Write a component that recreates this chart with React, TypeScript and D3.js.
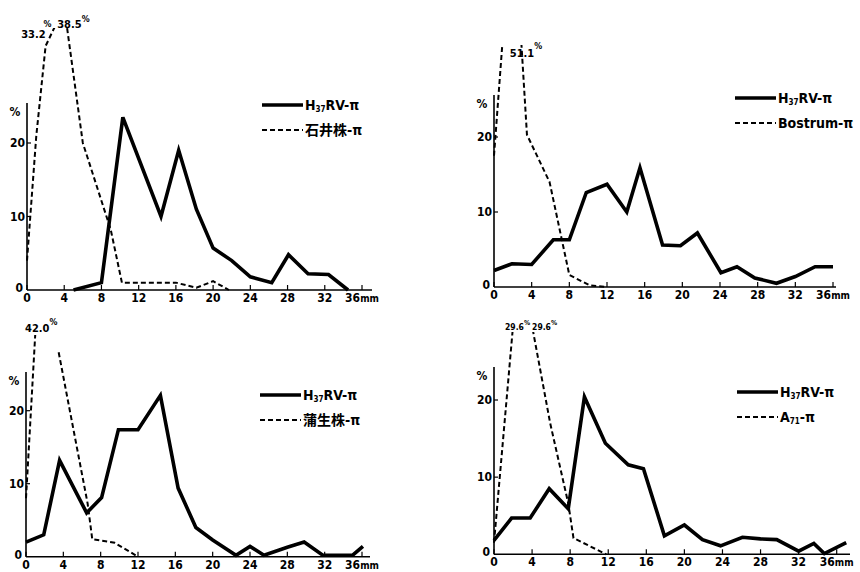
import React from 'react';
import * as d3 from 'd3';

// x: mm, y: %
const solid1 = [[5, 0], [8, 1], [10.3, 23.5], [14.4, 10], [16.3, 19], [18.2, 11], [20, 5.7], [22, 4], [24, 1.8], [26.3, 1], [28.1, 4.8], [30.2, 2.2], [32.4, 2.1], [34.5, 0]];
const dashed1 = [[0, 4], [1, 21], [2, 33.2], [4, 38.5], [6, 20], [9, 8.2], [10.2, 1], [16, 1], [18.2, 0.3], [20, 1.2], [21.7, 0]];

const solid2 = [[0, 2.2], [1.9, 3.1], [4, 3], [6.3, 6.3], [8, 6.3], [9.8, 12.6], [12, 13.7], [14.1, 10], [15.5, 15.9], [17.9, 5.6], [19.8, 5.5], [21.6, 7.2], [24.1, 1.9], [25.8, 2.7], [27.7, 1.2], [30, 0.5], [32, 1.4], [34.1, 2.7], [36, 2.7]];
const dashed2 = [[0, 17.5], [2, 51.1], [3.5, 20.3], [5.9, 14], [8, 1.6], [10.2, 0.2], [12, 0]];

const solid3 = [[0, 2], [1.9, 3], [3.6, 13.2], [6.5, 6], [8.1, 8.1], [9.9, 17.4], [12, 17.4], [14.4, 22.1], [16.3, 9.4], [18.2, 4], [20, 2.3], [22.5, 0.2], [24, 1.4], [25.5, 0.2], [28, 1.3], [29.8, 2], [31.8, 0.2], [35, 0.2], [36.1, 1.4]];
const dashed3 = [[0, 8], [1.5, 42.0], [2.5, null], [3.5, 28], [6.6, 7.3], [7.1, 2.4], [9.5, 1.9], [12, 0]];

const solid4 = [[0, 1.8], [1.85, 4.7], [3.8, 4.7], [5.8, 8.5], [7.8, 5.9], [9.5, 20.4], [11.7, 14.4], [14.1, 11.6], [15.7, 11.1], [17.9, 2.4], [20, 3.8], [21.9, 1.9], [23.8, 1.1], [26.1, 2.2], [28, 2], [29.7, 1.9], [32, 0.4], [33.6, 1.4], [34.7, 0.1], [37, 1.5]];
const dashed4 = [[0, 1.5], [2, 29.6], [4, 29.6], [5.9, 17], [7.8, 6.6], [8.35, 2.1], [11.8, 0]];

const peaks1 = [{ x: 2, label: '33.2' }, { x: 4, label: '38.5' }];
const peaks2 = [{ x: 2, label: '51.1' }];
const peaks3 = [{ x: 1.5, label: '42.0' }];
const peaks4 = [{ x: 2, label: '29.6' }, { x: 4, label: '29.6' }];

const solidLabel = { main: 'H', sub: '37', rest: 'RV-π' };
const dashedLabels = [
  { main: '石井株-π', sub: '', rest: '' },
  { main: 'Bostrum-π', sub: '', rest: '' },
  { main: '蒲生株-π', sub: '', rest: '' },
  { main: 'A', sub: '71', rest: '-π' },
];

const xTicks = [0, 4, 8, 12, 16, 20, 24, 28, 32, 36];
const yTicks = [10, 20];

const FONT = "'Liberation Sans Narrow', 'DejaVu Sans Condensed', 'Noto Sans CJK JP', sans-serif";

// layout of the four panels (pixel geometry only)
const panels = [
  { solid: solid1, dashed: dashed1, peaks: peaks1, legend: dashedLabels[0],
    x: [27, 362], y: [290, 143], axisTop: 103, axisRight: 372, clipTop: 28, peakFont: 11,
    leg: [262, 105], peakPos: [{ dx: 0, dy: 10, anchor: 'end', px: -2, py: -11 }, { dx: -7, dy: 0, anchor: 'start', px: 0, py: -6 }] },
  { solid: solid2, dashed: dashed2, peaks: peaks2, legend: dashedLabels[1],
    x: [494, 833], y: [287, 137], axisTop: 95, axisRight: 836, clipTop: 45, peakFont: 11,
    leg: [735, 98], peakPos: [{ dx: -3, dy: 12, anchor: 'start', px: 0, py: -8 }] },
  { solid: solid3, dashed: dashed3, peaks: peaks3, legend: dashedLabels[2],
    x: [26, 362], y: [556.7, 410.7], axisTop: 372, axisRight: 370, clipTop: 335, peakFont: 11,
    leg: [260, 395], peakPos: [{ dx: -15, dy: -3, anchor: 'start', px: 0, py: -7 }] },
  { solid: solid4, dashed: dashed4, peaks: peaks4, legend: dashedLabels[3],
    x: [494, 836.7], y: [554.3, 400], axisTop: 367, axisRight: 850, clipTop: 332, peakFont: 8.5,
    leg: [737, 392], peakPos: [{ dx: -8, dy: -2, anchor: 'start', px: 0, py: -5 }, { dx: 0, dy: -2, anchor: 'start', px: 0, py: -5 }] },
];

const LegendText = ({ x, y, t }: any) => (
  <text x={x} y={y} fontSize={14} fontFamily={FONT} fontWeight="bold">
    {t.main}
    {t.sub && <tspan fontSize={8} dy={2}>{t.sub}</tspan>}
    {t.rest && <tspan dy={t.sub ? -2 : 0}>{t.rest}</tspan>}
  </text>
);

const Panel = ({ p, i }: any) => {
  const xs = d3.scaleLinear().domain([0, 36]).range(p.x);
  const ys = d3.scaleLinear().domain([0, 20]).range(p.y);
  const x0 = xs(0);
  const y0 = ys(0);
  const line = d3.line<any>()
    .defined((d) => d[1] != null)
    .x((d) => xs(d[0]))
    .y((d) => ys(d[1]));
  const clipId = `clip-${i}`;

  return (
    <g>
      <defs>
        <clipPath id={clipId}>
          <rect x={x0 - 5} y={p.clipTop} width={p.axisRight - x0 + 20} height={y0 - p.clipTop + 3} />
        </clipPath>
      </defs>

      {/* axes */}
      <line x1={x0} x2={x0} y1={p.axisTop} y2={y0} stroke="#000" strokeWidth={1.6} />
      <line x1={x0} x2={p.axisRight} y1={y0} y2={y0} stroke="#000" strokeWidth={1.6} />
      {xTicks.map((t) => (
        <g key={t}>
          <line x1={xs(t)} x2={xs(t)} y1={y0} y2={y0 - 5} stroke="#000" strokeWidth={1.2} />
          <text x={xs(t)} y={y0 + 12} textAnchor="middle" fontSize={12} fontFamily={FONT} fontWeight="bold">
            {t}
            {t === 36 && <tspan fontSize={10}>mm</tspan>}
          </text>
        </g>
      ))}
      {yTicks.map((t) => (
        <g key={t}>
          <line x1={x0} x2={x0 + 4} y1={ys(t)} y2={ys(t)} stroke="#000" strokeWidth={1.2} />
          <text x={x0 - 2} y={ys(t) + 4} textAnchor="end" fontSize={12} fontFamily={FONT} fontWeight="bold">{t}</text>
        </g>
      ))}
      <text x={x0 - 4} y={y0 + 2} textAnchor="end" fontSize={12} fontFamily={FONT} fontWeight="bold">0</text>
      <text x={x0 - 12} y={p.axisTop + 13} textAnchor="middle" fontSize={12} fontFamily={FONT} fontWeight="bold">%</text>

      {/* series */}
      <g clipPath={`url(#${clipId})`}>
        <path d={line(p.dashed) || ''} fill="none" stroke="#000" strokeWidth={2} strokeDasharray="5,3" />
        <path d={line(p.solid) || ''} fill="none" stroke="#000" strokeWidth={3.6} strokeLinejoin="miter" />
      </g>

      {/* off-scale peak labels */}
      {p.peaks.map((pk: any, k: number) => {
        const pos = p.peakPos[k];
        const tx = xs(pk.x) + pos.dx;
        const ty = p.clipTop + pos.dy;
        return (
          <text key={k} x={tx} y={ty} textAnchor={pos.anchor} fontSize={p.peakFont} fontFamily={FONT} fontWeight="bold">
            {pk.label}
            {pos.anchor === 'start' && <tspan fontSize={p.peakFont * 0.8} dy={pos.py}>%</tspan>}
          </text>
        );
      })}
      {p.peaks.map((pk: any, k: number) => {
        const pos = p.peakPos[k];
        if (pos.anchor !== 'end') return null;
        return (
          <text key={'p' + k} x={xs(pk.x) + pos.dx + pos.px} y={p.clipTop + pos.dy + pos.py} fontSize={p.peakFont * 0.8} fontFamily={FONT} fontWeight="bold">%</text>
        );
      })}

      {/* legend */}
      <line x1={p.leg[0]} x2={p.leg[0] + 41} y1={p.leg[1]} y2={p.leg[1]} stroke="#000" strokeWidth={3.6} />
      <LegendText x={p.leg[0] + 43} y={p.leg[1] + 5} t={solidLabel} />
      <line x1={p.leg[0]} x2={p.leg[0] + 41} y1={p.leg[1] + 25} y2={p.leg[1] + 25} stroke="#000" strokeWidth={2} strokeDasharray="5,3" />
      <LegendText x={p.leg[0] + 43} y={p.leg[1] + 30} t={p.legend} />
    </g>
  );
};

export default function App() {
  return (
    <svg width={860} height={572} style={{ position: 'absolute', left: 0, top: 0, background: '#fff' }}>
      <rect width={860} height={572} fill="#fff" />
      {panels.map((p, i) => (
        <Panel key={i} p={p} i={i} />
      ))}
    </svg>
  );
}
